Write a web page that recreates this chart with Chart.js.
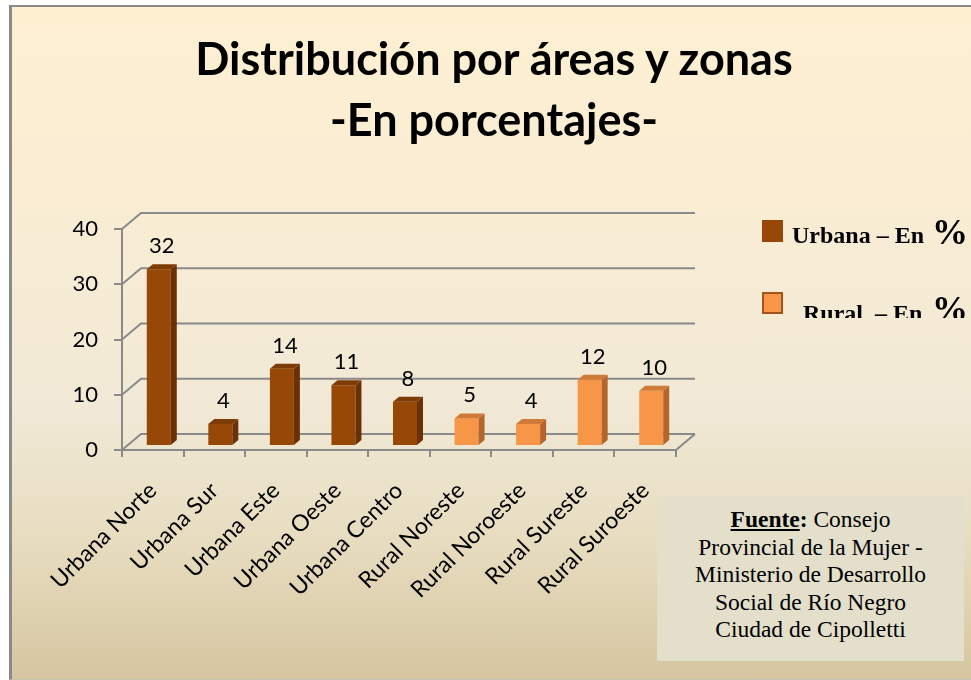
<!DOCTYPE html>
<html>
<head>
<meta charset="utf-8">
<script src="https://cdn.jsdelivr.net/npm/chart.js@4.4.1/dist/chart.umd.min.js"></script>
<style>
html,body{margin:0;padding:0;width:971px;height:680px;overflow:hidden;background:#ffffff;}
#frame{position:absolute;left:9px;top:5px;width:962px;height:675px;box-sizing:border-box;
  border-left:3px solid #8a8a8a;border-top:2px solid #8a8a8a;border-bottom:1px solid #c4c0b4;
  background:linear-gradient(to bottom,#fff0d2 0%,#f8ecd4 35%,#f1e9d6 60%,#e7dcbf 80%,#d5c6a0 100%);}
#chartWrap{position:absolute;left:0;top:0;width:971px;height:680px;}
#title{position:absolute;left:0;top:28px;width:988px;text-align:center;font-family:Lato,'Noto Sans',sans-serif;
  font-weight:bold;font-size:45px;line-height:61px;color:#000;white-space:nowrap;}
#legend{position:absolute;left:762px;top:212px;width:209px;height:106px;overflow:hidden;
  font-family:'Liberation Serif','Times New Roman',serif;font-weight:bold;color:#000;}
.sw{position:absolute;left:0;width:21px;height:22px;box-sizing:border-box;}
.lt{position:absolute;font-size:24px;line-height:normal;white-space:nowrap;}
.pc{position:absolute;font-size:36px;line-height:normal;}
#source{position:absolute;left:657px;top:496px;width:307px;height:165px;background:#e3dfcb;
  font-family:'Liberation Serif','Times New Roman',serif;font-size:23.5px;line-height:27.5px;color:#000;
  text-align:center;box-sizing:border-box;padding-top:10px;white-space:nowrap;}
#source u{font-weight:bold;}
</style>
</head>
<body>
<div id="frame"></div>
<div id="chartWrap"><canvas id="c" width="971" height="680"></canvas></div>
<div id="title">Distribución por áreas y zonas<br>-En porcentajes-</div>
<div id="legend">
  <div class="sw" style="top:8px;background:#974706;"></div>
  <div class="lt" style="left:30px;top:10px;">Urbana – En</div>
  <div class="pc" style="left:170px;top:-1px;">%</div>
  <div class="sw" style="top:80px;background:#f79646;border:2px solid #a4531a;"></div>
  <div class="lt" style="left:41px;top:88px;">Rural &nbsp;– En</div>
  <div class="pc" style="left:170px;top:76px;">%</div>
</div>
<div id="source"><u>Fuente</u><b>:</b> Consejo<br>Provincial de la Mujer -<br>Ministerio de Desarrollo<br>Social de Río Negro<br>Ciudad de Cipolletti</div>
<script>
// ---- data ----
const categories = ['Urbana Norte','Urbana Sur','Urbana Este','Urbana Oeste','Urbana Centro','Rural Noreste','Rural Noroeste','Rural Sureste','Rural Suroeste'];
const urbanaValues = [32, 4, 14, 11, 8, null, null, null, null];
const ruralValues  = [null, null, null, null, null, 5, 4, 12, 10];
const yTickValues = [0, 10, 20, 30, 40];
const seriesNames = ['Urbana – En %', 'Rural  – En %'];

// ---- styling ----
const GRID = '#8a8a8a';
const WALL_DX = 19, WALL_DY = -16;   // back wall offset
const BAR_DX = 6, BAR_DY = -4;       // bar plane offset
const SIDE_DX = 6, SIDE_DY = -5;     // bar depth
const faces = [
  {front:'#974706', side:'#6a3104', top:'#7e3b05'},
  {front:'#f79646', side:'#b4652b', top:'#d07a38'}
];

const depth3d = {
  id: 'depth3d',
  beforeDatasetsDraw(chart) {
    const ctx = chart.ctx, ys = chart.scales.y, a = chart.chartArea;
    ctx.save();
    ctx.strokeStyle = GRID; ctx.lineWidth = 2; ctx.lineCap = 'butt';
    ys.ticks.forEach(t => {
      const y = ys.getPixelForValue(t.value);
      ctx.beginPath();
      ctx.moveTo(a.left, y);
      ctx.lineTo(a.left + WALL_DX, y + WALL_DY);
      ctx.lineTo(a.right + WALL_DX, y + WALL_DY);
      ctx.stroke();
    });
    const y0 = ys.getPixelForValue(0);
    ctx.beginPath();
    ctx.moveTo(a.right, y0);
    ctx.lineTo(a.right + WALL_DX, y0 + WALL_DY);
    ctx.stroke();
    ctx.restore();
    ctx.save();
    ctx.translate(BAR_DX, BAR_DY);
  },
  afterDatasetsDraw(chart) {
    const ctx = chart.ctx;
    chart.data.datasets.forEach((ds, di) => {
      const meta = chart.getDatasetMeta(di);
      meta.data.forEach((bar, i) => {
        const v = ds.data[i];
        if (v === null || v === undefined) return;
        const p = bar.getProps(['x','y','base','width'], true);
        const l = p.x - p.width/2, r = p.x + p.width/2;
        const f = faces[di];
        ctx.fillStyle = f.side;
        ctx.beginPath();
        ctx.moveTo(r, p.y); ctx.lineTo(r + SIDE_DX, p.y + SIDE_DY);
        ctx.lineTo(r + SIDE_DX, p.base + SIDE_DY); ctx.lineTo(r, p.base);
        ctx.closePath(); ctx.fill();
        ctx.fillStyle = f.top;
        ctx.beginPath();
        ctx.moveTo(l, p.y); ctx.lineTo(l + SIDE_DX, p.y + SIDE_DY);
        ctx.lineTo(r + SIDE_DX, p.y + SIDE_DY); ctx.lineTo(r, p.y);
        ctx.closePath(); ctx.fill();
        ctx.fillStyle = '#000';
        ctx.font = '22px Lato';
        ctx.textAlign = 'center'; ctx.textBaseline = 'alphabetic';
        ctx.fillText(String(v), p.x + 3, p.y - 16);
      });
    });
    ctx.restore();
  }
};

new Chart(document.getElementById('c'), {
  type: 'bar',
  data: {
    labels: categories,
    datasets: [
      {label: seriesNames[0], data: urbanaValues, backgroundColor: faces[0].front, borderWidth: 0},
      {label: seriesNames[1], data: ruralValues, backgroundColor: faces[1].front, borderWidth: 0}
    ]
  },
  options: {
    responsive: false,
    animation: false,
    events: [],
    layout: {padding: {top: 229, right: 295, left: 0, bottom: 0}},
    datasets: {bar: {grouped: false, skipNull: true, barPercentage: 0.39, categoryPercentage: 1}},
    plugins: {legend: {display: false}, tooltip: {enabled: false}, title: {display: false}},
    scales: {
      y: {
        min: 0, max: 40,
        afterBuildTicks: s => { s.ticks = yTickValues.map(v => ({value: v})); },
        afterFit: s => { s.width = 122; },
        border: {display: true, color: GRID, width: 2},
        grid: {drawOnChartArea: false, drawTicks: true, tickLength: 8, color: GRID, lineWidth: 2},
        ticks: {color: '#000', font: {family: 'Lato', size: 22}, padding: 16}
      },
      x: {
        offset: true,
        afterFit: s => { s.height = 230; },
        border: {display: true, color: GRID, width: 2},
        grid: {offset: true, drawOnChartArea: false, drawTicks: true, tickLength: 7, color: GRID, lineWidth: 2},
        ticks: {color: '#000', font: {family: 'Lato', size: 23}, minRotation: 45, maxRotation: 45, padding: 20, autoSkip: false}
      }
    }
  },
  plugins: [depth3d]
});
</script>
</body>
</html>
